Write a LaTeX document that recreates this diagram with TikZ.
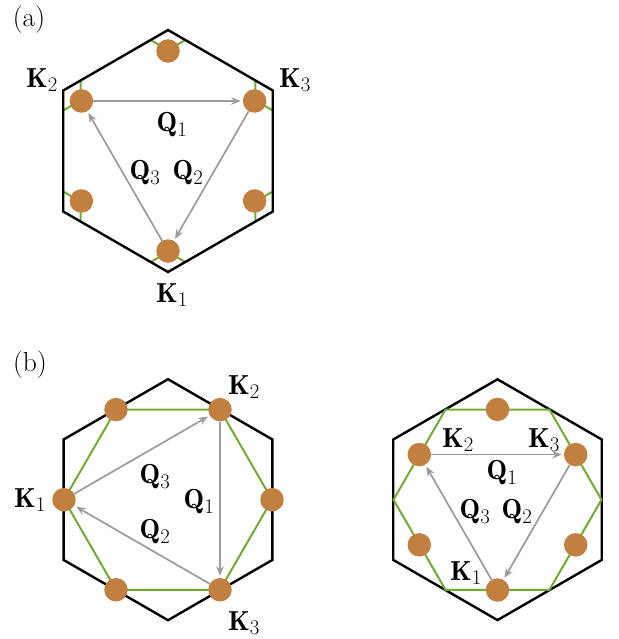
\documentclass[tikz,border=0pt]{standalone}
\usepackage{fontspec}
\usetikzlibrary{arrows.meta,calc}
\definecolor{dotc}{RGB}{193,128,64}
\definecolor{fsgreen}{RGB}{112,172,52}
\definecolor{arrg}{RGB}{155,155,155}
\tikzset{
  bz/.style={line width=2.4pt, line join=miter},
  fs/.style={draw=fsgreen, line width=2pt},
  dot/.style={circle, fill=dotc, inner sep=0pt, minimum size=23.5pt},
  qarr/.style={draw=arrg, line width=1.7pt, -{Stealth[length=9.5pt,width=7.5pt,inset=3pt]}, shorten >=2pt},
  lab/.style={font=\fontsize{27.5}{32}\selectfont, inner sep=0pt},
}
\begin{document}
\begin{tikzpicture}[x=1pt,y=-1pt]
\useasboundingbox (0,0) rectangle (618,639);

% ---------------- (a) ----------------
\node[lab] (la) at (29,20) {(a)};
\begin{scope}[shift={(168,151)}]
  \begin{scope}
    \clip (90:121) -- (150:121) -- (210:121) -- (270:121) -- (330:121) -- (30:121) -- cycle;
    \foreach \t in {30,90,150,210,270,330}{
      \draw[fs] ($(\t:121)+(90:20)$) -- ($(\t:121)+(150:20)$) -- ($(\t:121)+(210:20)$)
        -- ($(\t:121)+(270:20)$) -- ($(\t:121)+(330:20)$) -- ($(\t:121)+(30:20)$) -- cycle;
    }
  \end{scope}
  \draw[bz] (90:121) -- (150:121) -- (210:121) -- (270:121) -- (330:121) -- (30:121) -- cycle;
  \node[dot] (a1) at (90:100) {};
  \node[dot] (a4) at (150:100) {};
  \node[dot] (a2) at (210:100) {};
  \node[dot] (a5) at (270:100) {};
  \node[dot] (a3) at (330:100) {};
  \node[dot] (a6) at (30:100) {};
  \draw[qarr] (a2) -- (a3);
  \draw[qarr] (a3) -- (a1);
  \draw[qarr] (a1) -- (a2);
\end{scope}
\node[lab] (ak2) at (42,80) {$\mathbf{K}_2$};
\node[lab] (ak3) at (295,80) {$\mathbf{K}_3$};
\node[lab] (ak1) at (172,295) {$\mathbf{K}_1$};
\node[lab] (aq1) at (172,125) {$\mathbf{Q}_1$};
\node[lab] (aq3) at (145,173) {$\mathbf{Q}_3$};
\node[lab] (aq2) at (188,173) {$\mathbf{Q}_2$};

% ---------------- (b) left ----------------
\node[lab] (lb) at (30,365) {(b)};
\begin{scope}[shift={(168,499.7)}]
  \draw[bz] (90:120.5) -- (150:120.5) -- (210:120.5) -- (270:120.5) -- (330:120.5) -- (30:120.5) -- cycle;
  \draw[fs] (0:104) -- (60:104) -- (120:104) -- (180:104) -- (240:104) -- (300:104) -- cycle;
  \node[dot] (b1) at (180:104) {};
  \node[dot] (b2) at (300:104) {};
  \node[dot] (b3) at (60:104) {};
  \node[dot] (b4) at (0:104) {};
  \node[dot] (b5) at (120:104) {};
  \node[dot] (b6) at (240:104) {};
  \draw[qarr] (b1) -- (b2);
  \draw[qarr] (b2) -- (b3);
  \draw[qarr] (b3) -- (b1);
\end{scope}
\node[lab] (bk2) at (244,387) {$\mathbf{K}_2$};
\node[lab] (bk1) at (30,500) {$\mathbf{K}_1$};
\node[lab] (bk3) at (244,623) {$\mathbf{K}_3$};
\node[lab] (bq3) at (155,477) {$\mathbf{Q}_3$};
\node[lab] (bq1) at (199,502) {$\mathbf{Q}_1$};
\node[lab] (bq2) at (155,532) {$\mathbf{Q}_2$};

% ---------------- (b) right ----------------
\begin{scope}[shift={(497.5,499.7)}]
  \draw[bz] (90:120.4) -- (150:120.4) -- (210:120.4) -- (270:120.4) -- (330:120.4) -- (30:120.4) -- cycle;
  \draw[fs] (0:104) -- (60:104) -- (120:104) -- (180:104) -- (240:104) -- (300:104) -- cycle;
  \node[dot] (c1) at (90:90.3) {};
  \node[dot] (c2) at (210:90.3) {};
  \node[dot] (c3) at (330:90.3) {};
  \node[dot] (c4) at (270:90.3) {};
  \node[dot] (c5) at (30:90.3) {};
  \node[dot] (c6) at (150:90.3) {};
  \draw[qarr] (c2) -- (c3);
  \draw[qarr] (c3) -- (c1);
  \draw[qarr] (c1) -- (c2);
\end{scope}
\node[lab] (ck2) at (458,440) {$\mathbf{K}_2$};
\node[lab] (ck3) at (544,440) {$\mathbf{K}_3$};
\node[lab] (cq1) at (502,473) {$\mathbf{Q}_1$};
\node[lab] (cq3) at (475,512) {$\mathbf{Q}_3$};
\node[lab] (cq2) at (517,512) {$\mathbf{Q}_2$};
\node[lab] (ck1) at (466,573) {$\mathbf{K}_1$};
\end{tikzpicture}
\end{document}
